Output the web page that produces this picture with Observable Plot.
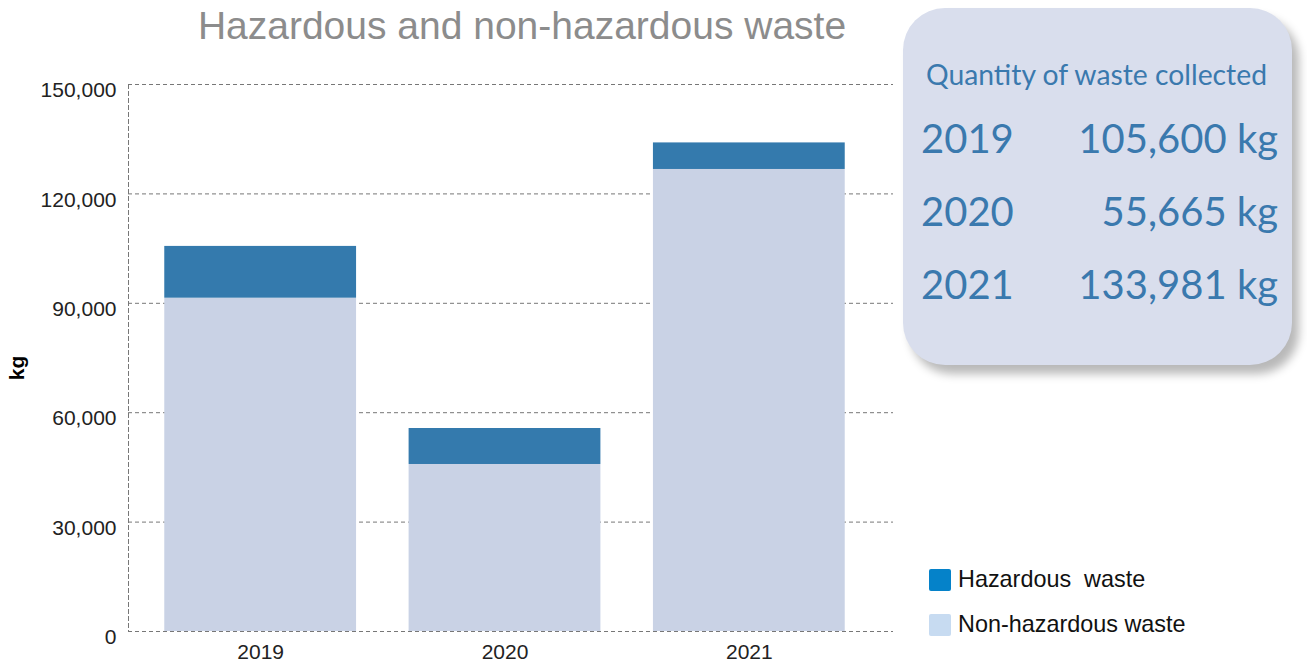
<!DOCTYPE html>
<html>
<head>
<meta charset="utf-8">
<script src="https://cdn.jsdelivr.net/npm/d3@7"></script>
<script src="https://cdn.jsdelivr.net/npm/@observablehq/plot@0.6"></script>
<style>
  html, body { margin: 0; padding: 0; background: #fff; }
  #wrap { position: relative; width: 1307px; height: 664px; overflow: hidden; font-family: "Liberation Sans", Arial, sans-serif; }
  #title { position: absolute; left: 0; width: 1044px; top: 4px; text-align: center; font-size: 39px; color: #8c8c8c; white-space: nowrap; }
  #box { position: absolute; left: 903px; top: 8px; width: 389px; height: 357px; border-radius: 42px; background: #d9deed; box-shadow: 7px 9px 10px rgba(0,0,0,0.28); color: #3a79ae; font-family: "Lato", "Open Sans", sans-serif; font-weight: 400; }
  #box .head { position: absolute; left: 23px; top: 49px; font-size: 28.3px; white-space: nowrap; }
  #box .row { position: absolute; left: 18px; width: 357px; font-size: 40px; white-space: nowrap; }
  #box .row .yr { position: absolute; left: 0; }
  #box .row .val { position: absolute; right: 0; }
  #legend { position: absolute; left: 929px; top: 557px; font-size: 23.4px; color: #111; }
  #legend .item { display: flex; align-items: center; height: 45px; }
  #legend .sw { width: 22px; height: 22px; border-radius: 2px; margin-right: 7px; }
  #chart { position: absolute; left: 0; top: 0; }
</style>
</head>
<body>
<div id="wrap">
  <div id="chart"></div>
  <div id="title"></div>
  <div id="box"></div>
  <div id="legend"></div>
</div>
<script>
const years = ["2019", "2020", "2021"];
const nonHazardous = [91400, 45800, 126700];
const hazardous = [14200, 9865, 7281];
const totalLabels = ["105,600 kg", "55,665 kg", "133,981 kg"];
const seriesNames = ["Non-hazardous waste", "Hazardous waste"];
const barColors = ["#c9d2e5", "#347aad"];
const legendNames = ["Hazardous  waste", "Non-hazardous waste"];
const legendColors = ["#0582c9", "#c7dbf1"];
const yTicks = [0, 30000, 60000, 90000, 120000, 150000];
const titleText = "Hazardous and non-hazardous waste";
const boxTitle = "Quantity of waste collected";
const yLabel = "kg";

const rows = [];
years.forEach((y, i) => {
  rows.push({year: y, type: seriesNames[0], value: nonHazardous[i]});
  rows.push({year: y, type: seriesNames[1], value: hazardous[i]});
});

const plot = Plot.plot({
  width: 1307,
  height: 664,
  marginLeft: 128,
  marginRight: 414,
  marginTop: 84,
  marginBottom: 33,
  style: {fontFamily: "Liberation Sans, Arial, sans-serif", fontSize: "21px", color: "#222", background: "transparent"},
  x: {type: "band", domain: years, range: [138, 871], paddingInner: 0.215, paddingOuter: 0.1075, label: null, round: false},
  y: {domain: [0, 150000], label: null},
  color: {domain: seriesNames, range: barColors},
  marks: [
    Plot.ruleY(yTicks, {stroke: "#777", strokeWidth: 1, strokeDasharray: "4,3"}),
    Plot.frame({anchor: "left", stroke: "#777", strokeDasharray: "4,3"}),
    Plot.barY(rows, Plot.stackY({x: "year", y: "value", fill: "type", order: seriesNames})),
    Plot.axisY({ticks: yTicks, tickSize: 0, tickPadding: 12, dy: 6, tickFormat: d3.format(","), fontSize: 21, label: null}),
    Plot.axisX({tickSize: 0, tickPadding: 13, fontSize: 21, label: null}),
    Plot.text([yLabel], {frameAnchor: "left", textAnchor: "middle", dx: -111, dy: 10, rotate: -90, fontWeight: "bold", fontSize: 21, fill: "#000", text: d => d})
  ]
});
document.getElementById("chart").appendChild(plot);

document.getElementById("title").textContent = titleText;

const box = document.getElementById("box");
const head = document.createElement("div");
head.className = "head";
head.textContent = boxTitle;
box.appendChild(head);
years.forEach((y, i) => {
  const r = document.createElement("div");
  r.className = "row";
  r.style.top = (106 + i * 73) + "px";
  const a = document.createElement("span"); a.className = "yr"; a.textContent = y;
  const b = document.createElement("span"); b.className = "val"; b.textContent = totalLabels[i];
  r.appendChild(a); r.appendChild(b);
  box.appendChild(r);
});

const legend = document.getElementById("legend");
legendNames.forEach((n, i) => {
  const it = document.createElement("div"); it.className = "item";
  const sw = document.createElement("div"); sw.className = "sw"; sw.style.background = legendColors[i];
  const t = document.createElement("span"); t.textContent = n; t.style.whiteSpace = "pre";
  it.appendChild(sw); it.appendChild(t);
  legend.appendChild(it);
});
</script>
</body>
</html>
